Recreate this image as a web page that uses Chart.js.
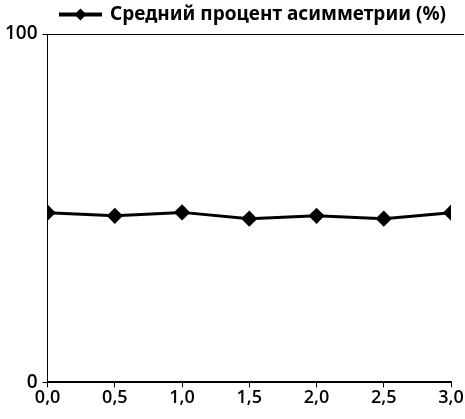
<!DOCTYPE html>
<html>
<head>
<meta charset="utf-8">
<script src="https://cdn.jsdelivr.net/npm/chart.js@4"></script>
<style>
  html, body { margin: 0; padding: 0; background: #fff; }
  #wrap { width: 465px; height: 419px; }
</style>
</head>
<body>
<div id="wrap"><canvas id="asym"></canvas></div>
<script>
// data
var seriesName = "Средний процент асимметрии (%)";
var xValues = [0, 0.5, 1.0, 1.5, 2.0, 2.5, 3.0];
var asymValues = [48.7, 47.8, 48.8, 47.0, 47.8, 47.0, 48.7];
var yTicks = [0, 100];

var points = xValues.map(function (x, i) { return { x: x, y: asymValues[i] }; });

// legend: line with a diamond on it, like the original
var legendDiamond = {
  id: 'legendDiamond',
  afterDraw: function (chart) {
    var boxes = chart.legend.legendHitBoxes;
    if (!boxes || !boxes.length) return;
    var b = boxes[0];
    var ctx = chart.ctx;
    var cx = b.left + 20, cy = b.top + b.height / 2;
    ctx.save();
    ctx.fillStyle = '#000';
    ctx.beginPath();
    ctx.moveTo(cx, cy - 6);
    ctx.lineTo(cx + 6, cy);
    ctx.lineTo(cx, cy + 6);
    ctx.lineTo(cx - 6, cy);
    ctx.closePath();
    ctx.fill();
    ctx.restore();
  }
};

// top line at 100 runs a bit past the x axis end
var topLine = {
  id: 'topLine',
  afterDraw: function (chart) {
    var y = chart.scales.y.getPixelForValue(100);
    var ctx = chart.ctx;
    ctx.save();
    ctx.strokeStyle = '#000';
    ctx.lineWidth = 1;
    ctx.beginPath();
    ctx.moveTo(chart.chartArea.left - 4, Math.round(y) + 0.5);
    ctx.lineTo(chart.chartArea.right + 13, Math.round(y) + 0.5);
    ctx.stroke();
    ctx.restore();
  }
};

var ctxAsym = document.getElementById("asym").getContext("2d");

new Chart(ctxAsym, {
  type: 'line',
  data: {
    datasets: [{
      label: seriesName,
      data: points,
      borderColor: '#000',
      backgroundColor: '#000',
      borderWidth: 3,
      pointStyle: 'rectRot',
      pointRadius: 6,
      pointHoverRadius: 6,
      pointBackgroundColor: '#000',
      pointBorderColor: '#000',
      tension: 0
    }]
  },
  options: {
    responsive: true,
    maintainAspectRatio: false,
    animation: false,
    layout: { padding: { left: 0, right: 14, top: 0, bottom: 10 } },
    plugins: {
      legend: {
        display: true,
        position: 'top',
        align: 'end',
        labels: {
          boxWidth: 40,
          boxHeight: 1,
          color: '#000',
          font: { family: 'Noto Sans', size: 19, weight: 'bold' },
          padding: 5
        }
      },
      tooltip: { enabled: false }
    },
    scales: {
      x: {
        type: 'linear',
        min: 0,
        max: 3,
        ticks: {
          stepSize: 0.5,
          color: '#000',
          font: { family: 'Open Sans', size: 18, weight: '600' },
          padding: 0,
          callback: function (v) { return v.toFixed(1).replace('.', ','); }
        },
        grid: { drawOnChartArea: false, tickLength: 5, color: '#000' },
        border: { color: '#000', width: 2 }
      },
      y: {
        min: 0,
        max: 100,
        afterBuildTicks: function (axis) {
          axis.ticks = yTicks.map(function (v) { return { value: v }; });
        },
        ticks: {
          color: '#000',
          font: { family: 'Open Sans', size: 19, weight: '600' },
          padding: 5
        },
        grid: { drawOnChartArea: false, tickLength: 5, color: '#000' },
        border: { color: '#000', width: 1 }
      }
    }
  },
  plugins: [legendDiamond, topLine]
});
</script>
</body>
</html>
